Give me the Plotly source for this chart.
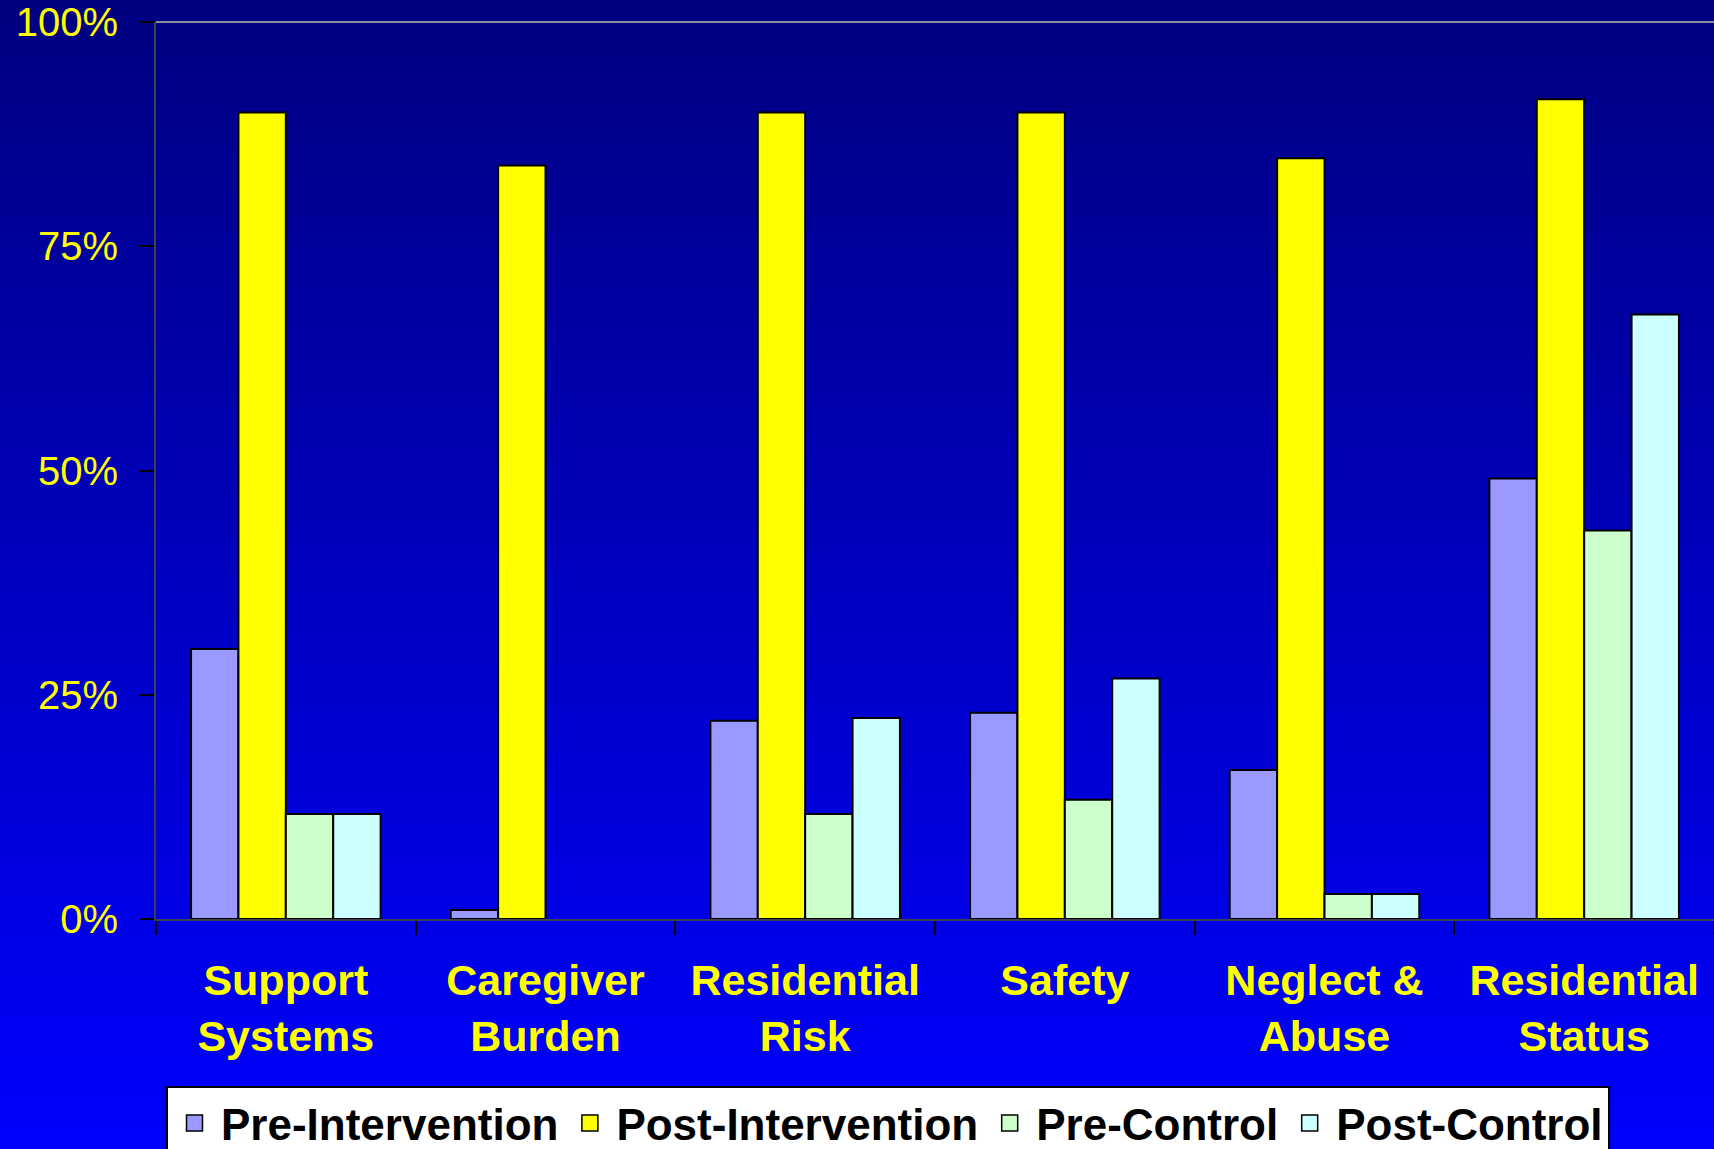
import plotly.graph_objects as go

# Outcome domains and share of clients (fraction) in each group
categories = ["Support<br>Systems", "Caregiver<br>Burden", "Residential<br>Risk",
              "Safety", "Neglect &<br>Abuse", "Residential<br>Status"]
pre_intervention = [0.301, 0.010, 0.221, 0.230, 0.166, 0.491]
post_intervention = [0.899, 0.840, 0.899, 0.899, 0.848, 0.914]
pre_control = [0.117, 0.0, 0.117, 0.133, 0.028, 0.433]
post_control = [0.117, 0.0, 0.224, 0.268, 0.028, 0.674]

series_names = ["Pre-Intervention", "Post-Intervention", "Pre-Control", "Post-Control"]
series_values = [pre_intervention, post_intervention, pre_control, post_control]
series_colors = ["#9999FF", "#FFFF00", "#CCFFCC", "#CCFFFF"]

W, H = 1714, 1149
ML, MR, MT, MB = 156, 0, 22, 230
FONT = "Liberation Sans, Arial, Helvetica, sans-serif"

fig = go.Figure()
for name, vals, col in zip(series_names, series_values, series_colors):
    # empty bars get no outline so nothing shows on the baseline
    widths = [2 if v > 0 else 0 for v in vals]
    fig.add_trace(go.Bar(
        name=name, x=categories, y=vals, showlegend=False, legendgroup=name,
        marker=dict(color=col, line=dict(color="black", width=widths)),
    ))
# legend entries with larger square swatches
for name, col in zip(series_names, series_colors):
    fig.add_trace(go.Scatter(
        name=name, x=[None], y=[None], mode="markers", legendgroup=name,
        marker=dict(symbol="square", size=16, color=col,
                    line=dict(color="black", width=1.5)),
    ))

# Vertical navy-to-blue gradient behind everything, built from thin bands
plot_h = H - MT - MB
plot_w = W - ML - MR
n_bands = 128
shapes = []
for i in range(n_bands):
    py0 = H * i / n_bands
    py1 = H * (i + 1) / n_bands + 1
    t = (i + 0.5) / n_bands
    b = int(round(128 + 127 * t))
    shapes.append(dict(
        type="rect", xref="paper", yref="paper", layer="below",
        x0=-ML / plot_w - 0.01, x1=1.01,
        y0=(H - MB - py1) / plot_h, y1=(H - MB - py0) / plot_h,
        fillcolor=f"rgb(0,0,{b})", line=dict(width=0),
    ))
# light top border of the plot area
shapes.append(dict(type="line", xref="paper", yref="paper", x0=0, x1=1, y0=1, y1=1,
                   line=dict(color="#8C8C9C", width=2), layer="above"))

fig.update_layout(
    width=W, height=H,
    margin=dict(l=ML, r=MR, t=MT, b=MB, autoexpand=False),
    paper_bgcolor="#0000C0", plot_bgcolor="rgba(0,0,0,0)",
    barmode="group", bargap=0.27, bargroupgap=0.0,
    shapes=shapes,
    showlegend=True,
    legend=dict(
        orientation="h", x=(166 - ML) / plot_w, xanchor="left",
        y=(H - MB - 1086) / plot_h, yanchor="top",
        bgcolor="white", bordercolor="black", borderwidth=2,
        font=dict(family=FONT, size=44, color="black", weight="bold"),
        itemwidth=43, traceorder="normal",
    ),
    xaxis=dict(
        type="category", tickson="boundaries", ticks="outside", ticklen=14,
        tickwidth=1.5, tickcolor="black",
        showline=True, linecolor="#404050", linewidth=2, showgrid=False,
        tickfont=dict(family=FONT, size=43, color="#FFFF00", weight="bold"),
        ticklabelstandoff=22, automargin=False,
    ),
    yaxis=dict(
        range=[0, 1], tickvals=[0, 0.25, 0.5, 0.75, 1.0], tickformat=".0%",
        ticks="outside", ticklen=14, tickwidth=1.5, tickcolor="black",
        showline=True, linecolor="#404048", linewidth=2, showgrid=False,
        zeroline=False,
        tickfont=dict(family=FONT, size=40, color="#FFFF00"),
        ticklabelstandoff=14, automargin=False,
    ),
)

fig.write_html("out.html")
